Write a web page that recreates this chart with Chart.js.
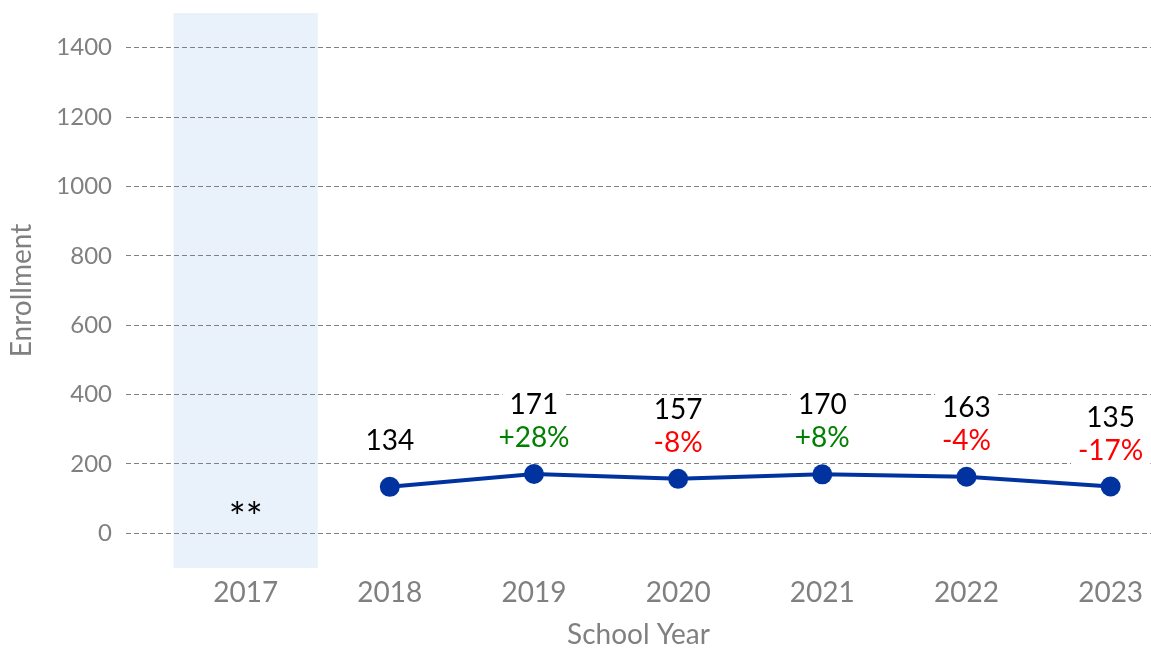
<!DOCTYPE html>
<html>
<head>
<meta charset="utf-8">
<script src="https://cdn.jsdelivr.net/npm/chart.js@4"></script>
<style>
  html, body { margin: 0; padding: 0; background: #fff; }
  #wrap { width: 1151px; height: 652px; position: relative; }
</style>
</head>
<body>
<div id="wrap"><canvas id="chart"></canvas></div>
<script>
'use strict';

/* ── Data ─────────────────────────────────────────────── */
const years        = [2017, 2018, 2019, 2020, 2021, 2022, 2023];
const enrollment   = [null, 134, 171, 157, 170, 163, 135];
const changeLabels = [null, null, '+28%', '-8%', '+8%', '-4%', '-17%'];
const yTicks       = [0, 200, 400, 600, 800, 1000, 1200, 1400];
const suppressedYear  = 2017;
const suppressedMark  = '**';
const suppressedValue = 42;   // height of the "**" mark on the y scale

const FONT   = 'Lato, "Open Sans", sans-serif';
const GRAY   = '#808080';
const BLUE   = '#0033a0';
const GREEN  = '#008000';
const RED    = '#ff0000';

/* ── Plugins ──────────────────────────────────────────── */
// light blue band behind the year with suppressed data
const shadePlugin = {
  id: 'shade',
  beforeDraw(chart) {
    const { ctx, chartArea, scales: { x } } = chart;
    const x0 = x.getPixelForValue(suppressedYear - 0.5);
    const x1 = x.getPixelForValue(suppressedYear + 0.5);
    ctx.save();
    ctx.fillStyle = '#e9f1fa';
    ctx.fillRect(x0, chartArea.top, x1 - x0, chartArea.bottom - chartArea.top);
    ctx.restore();
  }
};

function boxedText(ctx, text, cx, cy, color) {
  const w = ctx.measureText(text).width;
  ctx.fillStyle = '#fff';
  ctx.fillRect(cx - w / 2 - 7, cy - 14, w + 14, 28);
  ctx.fillStyle = color;
  ctx.fillText(text, cx, cy);
}

// value + percent change labels above each point
const labelPlugin = {
  id: 'pointLabels',
  afterDatasetsDraw(chart) {
    const { ctx, scales: { x, y } } = chart;
    const meta = chart.getDatasetMeta(0);
    ctx.save();
    ctx.font = '28px ' + FONT;
    ctx.textAlign = 'center';
    ctx.textBaseline = 'middle';
    meta.data.forEach((pt, i) => {
      if (enrollment[i] == null) return;
      const pct = changeLabels[i];
      if (pct) {
        const color = pct.startsWith('+') ? GREEN : RED;
        boxedText(ctx, String(enrollment[i]), pt.x, pt.y - 69, '#000');
        boxedText(ctx, pct, pt.x, pt.y - 36, color);
      } else {
        boxedText(ctx, String(enrollment[i]), pt.x, pt.y - 46, '#000');
      }
    });
    // suppressed year marker
    ctx.font = '40px ' + FONT;
    ctx.fillStyle = '#000';
    ctx.fillText(suppressedMark, x.getPixelForValue(suppressedYear), y.getPixelForValue(suppressedValue));
    ctx.restore();
  }
};

/* ── Chart ────────────────────────────────────────────── */
new Chart(document.getElementById('chart'), {
  type: 'line',
  data: {
    datasets: [{
      label: 'Enrollment',
      data: years.map((yr, i) => ({ x: yr, y: enrollment[i] })),
      borderColor: BLUE,
      backgroundColor: BLUE,
      borderWidth: 4,
      pointRadius: 10,
      pointHoverRadius: 10,
      pointBorderWidth: 0,
      tension: 0,
    }],
  },
  options: {
    responsive: true,
    maintainAspectRatio: false,
    animation: false,
    layout: { autoPadding: false, padding: { top: 13, right: 0, left: 0, bottom: 0 } },
    plugins: {
      legend: { display: false },
      tooltip: { enabled: false },
    },
    scales: {
      x: {
        type: 'linear',
        min: 2016.17,
        max: 2023.28,
        grid: { display: false },
        border: { display: false },
        afterBuildTicks: s => { s.ticks = years.map(v => ({ value: v })); },
        afterFit: s => { s.height = 84; s.paddingLeft = 0; s.paddingRight = 0; },
        ticks: {
          color: GRAY,
          padding: 0,
          font: { family: FONT, size: 28 },
          callback: v => String(v),
          maxRotation: 0,
          autoSkip: false,
        },
        title: {
          display: true,
          text: 'School Year',
          color: GRAY,
          font: { family: FONT, size: 28 },
          padding: { top: 0, bottom: 0 },
        },
      },
      y: {
        min: -100,
        max: 1500,
        afterBuildTicks: s => { s.ticks = yTicks.map(v => ({ value: v })); },
        afterFit: s => { s.width = 126; s.paddingTop = 0; s.paddingBottom = 0; },
        grid: {
          color: GRAY,
          lineWidth: 1,
          drawTicks: false,
        },
        border: { display: false, dash: [5, 3] },
        ticks: {
          color: GRAY,
          padding: 14,
          font: { family: FONT, size: 24 },
          callback: v => String(v),
        },
        title: {
          display: true,
          text: 'Enrollment',
          color: GRAY,
          font: { family: FONT, size: 28 },
          padding: { top: 5, bottom: 0 },
        },
      },
    },
  },
  plugins: [shadePlugin, labelPlugin],
});
</script>
</body>
</html>
